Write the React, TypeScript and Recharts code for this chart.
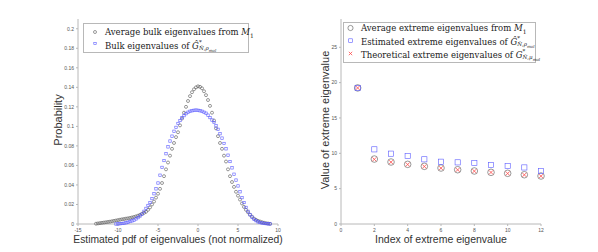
import { ScatterChart, Scatter, XAxis, YAxis } from "recharts";

// bulk eigenvalue pdf, averaged from M1 (black rings)
const avgBulkX = [
  -12.75, -12.5, -12.25, -12, -11.75, -11.5, -11.25, -11, -10.75, -10.5, -10.25, -10,
  -9.75, -9.5, -9.25, -9, -8.75, -8.5, -8.25, -8, -7.75, -7.5, -7.25, -7,
  -6.75, -6.5, -6.25, -6, -5.75, -5.5, -5.25, -5, -4.75, -4.5, -4.25, -4,
  -3.75, -3.5, -3.25, -3, -2.75, -2.5, -2.25, -2, -1.75, -1.5, -1.25, -1,
  -0.75, -0.5, -0.25, 0, 0.25, 0.5, 0.75, 1, 1.25, 1.5, 1.75, 2,
  2.25, 2.5, 2.75, 3, 3.25, 3.5, 3.75, 4, 4.25, 4.5, 4.75, 5,
  5.25, 5.5, 5.75, 6, 6.25, 6.5, 6.75, 7, 7.25, 7.5, 7.75, 8,
  8.25, 8.5, 8.75, 9,
];
const avgBulkY = [
  0.0003, 0.0006, 0.0009, 0.0012, 0.0015, 0.0018, 0.0021, 0.0024, 0.0028, 0.0032, 0.0036, 0.004,
  0.0044, 0.0048, 0.0051, 0.0055, 0.0058, 0.0062, 0.0067, 0.0072, 0.0078, 0.0085, 0.0094, 0.0105,
  0.0114, 0.0125, 0.0145, 0.017, 0.02, 0.023, 0.027, 0.031, 0.036, 0.042, 0.049, 0.056,
  0.063, 0.07, 0.077, 0.083, 0.089, 0.094, 0.101, 0.108, 0.114, 0.12, 0.126, 0.131,
  0.135, 0.138, 0.14, 0.141, 0.1405, 0.139, 0.136, 0.132, 0.127, 0.121, 0.114, 0.106,
  0.098, 0.09, 0.083, 0.077, 0.07, 0.064, 0.056, 0.049, 0.043, 0.038, 0.033, 0.029,
  0.025, 0.021, 0.0175, 0.0145, 0.012, 0.0095, 0.0075, 0.0055, 0.0043, 0.0032, 0.0025, 0.0018,
  0.0013, 0.0008, 0.0005, 0.0002,
];

// bulk eigenvalues of G-hat (blue squares)
const estBulkX = [
  -10.25, -10, -9.75, -9.5, -9.25, -9, -8.75, -8.5, -8.25, -8, -7.75, -7.5,
  -7.25, -7, -6.75, -6.5, -6.25, -6, -5.75, -5.5, -5.25, -5, -4.75, -4.5,
  -4.25, -4, -3.75, -3.5, -3.25, -3, -2.75, -2.5, -2.25, -2, -1.75, -1.5,
  -1.25, -1, -0.75, -0.5, -0.25, 0, 0.25, 0.5, 0.75, 1, 1.25, 1.5,
  1.75, 2, 2.25, 2.5, 2.75, 3, 3.25, 3.5, 3.75, 4, 4.25, 4.5,
  4.75, 5, 5.25, 5.5, 5.75, 6, 6.25, 6.5, 6.75, 7, 7.25, 7.5,
  7.75, 8, 8.25, 8.5, 8.75, 9,
];
const estBulkY = [
  0, 0.0001, 0.0003, 0.0005, 0.0008, 0.0012, 0.0018, 0.0025, 0.0032, 0.004, 0.0052, 0.0065,
  0.0082, 0.01, 0.013, 0.016, 0.019, 0.022, 0.026, 0.031, 0.036, 0.042, 0.05, 0.058,
  0.065, 0.072, 0.079, 0.085, 0.09, 0.095, 0.099, 0.103, 0.106, 0.109, 0.111, 0.113,
  0.1145, 0.1155, 0.116, 0.1165, 0.1167, 0.1165, 0.116, 0.1155, 0.1145, 0.1135, 0.1115, 0.109,
  0.1065, 0.104, 0.1005, 0.097, 0.0925, 0.088, 0.0825, 0.077, 0.0705, 0.064, 0.0575, 0.051,
  0.045, 0.039, 0.033, 0.027, 0.022, 0.017, 0.013, 0.0095, 0.007, 0.0048, 0.0034, 0.0022,
  0.0015, 0.001, 0.0007, 0.0004, 0.0002, 0.0001,
];

const bulkXTicks = [-15, -10, -5, 0, 5, 10];
const bulkYTicks = [0, 0.02, 0.04, 0.06, 0.08, 0.1, 0.12, 0.14, 0.16, 0.18, 0.2];

// extreme eigenvalues
const extremeIndex = [1, 2, 3, 4, 5, 6, 7, 8, 9, 10, 11, 12];
const avgExtreme = [19.25, 9.19, 8.77, 8.44, 8.16, 7.92, 7.68, 7.5, 7.31, 7.17, 6.97, 6.79];
const estExtreme = [19.25, 10.56, 9.95, 9.62, 9.15, 8.81, 8.72, 8.63, 8.35, 8.2, 8.0, 7.5];
const theoExtreme = [19.25, 9.15, 8.75, 8.42, 8.14, 7.9, 7.66, 7.48, 7.3, 7.15, 6.95, 6.77];

const extXTicks = [0, 2, 4, 6, 8, 10, 12];
const extYTicks = [0, 5, 10, 15, 20, 25];

const BLACK = "#555555";
const BLUE = "#5a5aff";
const RED = "#ff4a4a";
const AXIS = "#b8b8b8";
const SANS = "'Liberation Sans', Arial, sans-serif";
const SERIF = "'DejaVu Serif', 'Liberation Serif', serif";

const pairs = (xs: number[], ys: number[]) => xs.map((x, i) => ({ x, y: ys[i] }));

const ring = (color: string, r: number, w = 0.6) => (p: any) => (
  <circle cx={p.cx} cy={p.cy} r={r} fill="none" stroke={color} strokeWidth={w} />
);
const box = (color: string, h: number, w = 0.6) => (p: any) => (
  <rect x={p.cx - h} y={p.cy - h} width={2 * h} height={2 * h} fill="none" stroke={color} strokeWidth={w} />
);
const cross = (color: string, h: number, w = 0.8) => (p: any) => (
  <path d={`M${p.cx - h},${p.cy - h}L${p.cx + h},${p.cy + h}M${p.cx - h},${p.cy + h}L${p.cx + h},${p.cy - h}`} stroke={color} strokeWidth={w} />
);

const tick = { fontSize: 5, fill: "#555", fontFamily: SANS };
const axisProps = {
  axisLine: { stroke: AXIS, strokeWidth: 1 },
  tickLine: { stroke: AXIS },
  tickSize: 2,
  tickMargin: 2,
  tick,
};

const GStar = ({ hat, sub }: { hat: boolean; sub: string }) => (
  <span>
    <i>{hat ? "Ĝ" : "G"}</i>
    <span style={{ display: "inline-flex", flexDirection: "column", verticalAlign: "middle", fontSize: 5.5, lineHeight: "6px" }}>
      <span>*</span>
      <span><i>N̂</i>,<i>{sub}</i><sub style={{ fontSize: 4 }}><i>mol</i></sub></span>
    </span>
  </span>
);

const legendBox: React.CSSProperties = {
  position: "absolute",
  background: "#fff",
  border: `1px solid ${AXIS}`,
  fontFamily: SERIF,
  fontSize: 8.5,
  color: "#222",
  boxSizing: "border-box",
};

const row = (top: number, left: number): React.CSSProperties => ({
  position: "absolute",
  top,
  left,
  whiteSpace: "nowrap",
  lineHeight: "10px",
});

export default function App() {
  const avgBulk = pairs(avgBulkX, avgBulkY);
  const estBulk = pairs(estBulkX, estBulkY);
  const avgExt = pairs(extremeIndex, avgExtreme);
  const estExt = pairs(extremeIndex, estExtreme);
  const theoExt = pairs(extremeIndex, theoExtreme);

  return (
    <div style={{ position: "relative", width: 598, height: 252, background: "#fff", overflow: "hidden" }}>
      <style>{"body{margin:0}"}</style>

      <div style={{ position: "absolute", left: 0, top: 0 }}>
        <ScatterChart width={300} height={252} margin={{ top: 19, right: 22, bottom: 0, left: 0 }}>
          <XAxis type="number" dataKey="x" domain={[-15, 10]} ticks={bulkXTicks} height={28} {...axisProps} />
          <YAxis type="number" dataKey="y" domain={[0, 0.21]} ticks={bulkYTicks} width={78} {...axisProps} />
          <Scatter data={avgBulk} shape={ring(BLACK, 1.5)} isAnimationActive={false} />
          <Scatter data={estBulk} shape={box(BLUE, 1.2)} isAnimationActive={false} />
        </ScatterChart>
      </div>

      <div style={{ position: "absolute", left: 300, top: 0 }}>
        <ScatterChart width={298} height={252} margin={{ top: 19, right: 57, bottom: 0, left: 0 }}>
          <XAxis type="number" dataKey="x" domain={[0, 12]} ticks={extXTicks} height={28} {...axisProps} />
          <YAxis type="number" dataKey="y" domain={[0, 29]} ticks={extYTicks} width={41} {...axisProps} />
          <Scatter data={avgExt} shape={ring(BLACK, 3.3)} isAnimationActive={false} />
          <Scatter data={estExt} shape={box(BLUE, 2.6)} isAnimationActive={false} />
          <Scatter data={theoExt} shape={cross(RED, 2)} isAnimationActive={false} />
        </ScatterChart>
      </div>

      {/* axis titles */}
      <div style={{ position: "absolute", left: 58, top: 120, transform: "translate(-50%,-50%) rotate(-90deg)", fontFamily: SANS, fontSize: 11, color: "#333", whiteSpace: "nowrap" }}>
        Probability
      </div>
      <div style={{ position: "absolute", left: 178, top: 239, transform: "translate(-50%,-50%)", fontFamily: SANS, fontSize: 10.3, color: "#333", whiteSpace: "nowrap" }}>
        Estimated pdf of eigenvalues (not normalized)
      </div>
      <div style={{ position: "absolute", left: 325, top: 120, transform: "translate(-50%,-50%) rotate(-90deg)", fontFamily: SANS, fontSize: 11, color: "#333", whiteSpace: "nowrap" }}>
        Value of extreme eigenvalue
      </div>
      <div style={{ position: "absolute", left: 441, top: 239, transform: "translate(-50%,-50%)", fontFamily: SANS, fontSize: 10.5, color: "#333", whiteSpace: "nowrap" }}>
        Index of extreme eigenvalue
      </div>

      {/* left legend */}
      <div style={{ ...legendBox, left: 83, top: 23, width: 166, height: 30 }}>
        <svg width={20} height={30} style={{ position: "absolute", left: 0, top: 0 }}>
          <circle cx={11} cy={8} r={1.5} fill="none" stroke={BLACK} strokeWidth={0.6} />
          <rect x={9.8} y={18.3} width={2.4} height={2.4} fill="none" stroke={BLUE} strokeWidth={0.6} />
        </svg>
        <div style={row(3, 21)}>
          Average bulk eigenvalues from <i>M</i><sub style={{ fontSize: 6 }}>1</sub>
        </div>
        <div style={row(15, 21)}>
          Bulk eigenvalues of <GStar hat sub="ρ" />
        </div>
      </div>

      {/* right legend */}
      <div style={{ ...legendBox, left: 343, top: 22, width: 193, height: 41 }}>
        <svg width={20} height={41} style={{ position: "absolute", left: 0, top: 0 }}>
          <circle cx={6.5} cy={5} r={2.6} fill="none" stroke={BLACK} strokeWidth={0.6} />
          <rect x={4.7} y={15.8} width={3.6} height={3.6} fill="none" stroke={BLUE} strokeWidth={0.6} />
          <path d="M4.8,28.8L8.2,32.2M4.8,32.2L8.2,28.8" stroke={RED} strokeWidth={0.8} />
        </svg>
        <div style={row(0, 17)}>
          Average extreme eigenvalues from <i>M</i><sub style={{ fontSize: 6 }}>1</sub>
        </div>
        <div style={row(12, 17)}>
          Estimated extreme eigenvalues of <GStar hat sub="ρ" />
        </div>
        <div style={row(25, 17)}>
          Theoretical extreme eigenvalues of <GStar hat={false} sub="μ" />
        </div>
      </div>
    </div>
  );
}
